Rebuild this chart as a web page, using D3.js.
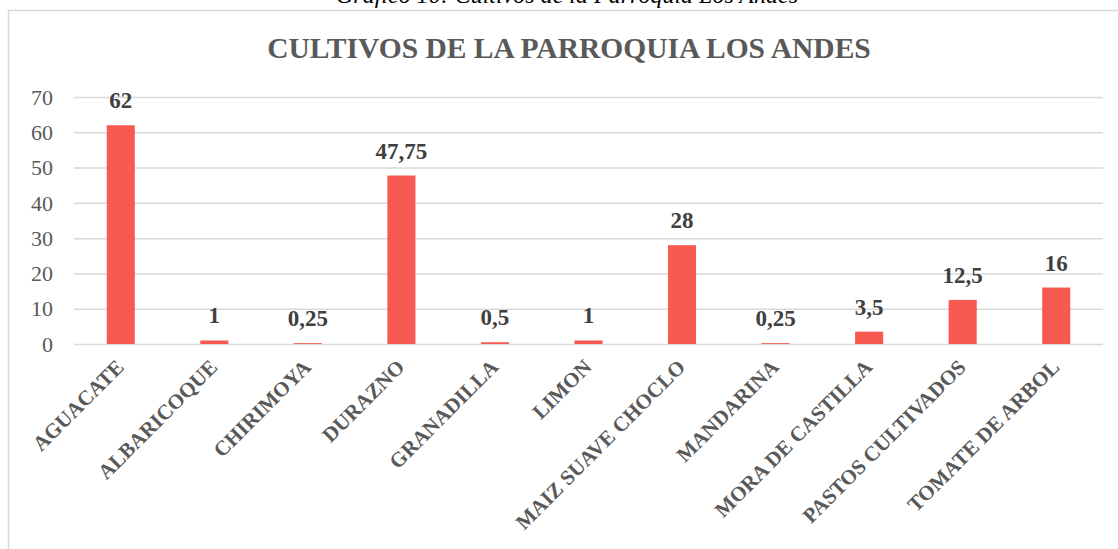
<!DOCTYPE html>
<html lang="es">
<head>
<meta charset="utf-8">
<title>Cultivos de la Parroquia Los Andes</title>
<script src="https://cdn.jsdelivr.net/npm/d3@7"></script>
<style>
  body { margin: 0; background: #fff; }
  svg { display: block; }
  .grid line { stroke: #d9d9d9; stroke-width: 1.5; }
  .grid .domain { display: none; }
</style>
</head>
<body>
<script>
// data
var cultivos = ["AGUACATE", "ALBARICOQUE", "CHIRIMOYA", "DURAZNO", "GRANADILLA", "LIMON",
  "MAIZ SUAVE CHOCLO", "MANDARINA", "MORA DE CASTILLA", "PASTOS CULTIVADOS", "TOMATE DE ARBOL"];
var hectareas = [62, 1, 0.25, 47.75, 0.5, 1, 28, 0.25, 3.5, 12.5, 16];
var yTicks = [0, 10, 20, 30, 40, 50, 60, 70];

var w = 1118, h = 549;
var plotLeft = 74, plotRight = 1103, plotTop = 97, plotBottom = 344;

var svg = d3.select("body").append("svg")
  .attr("width", w)
  .attr("height", h);

// caption above the chart (cut off at the top in the original)
svg.append("text")
  .attr("x", 567)
  .attr("y", 3)
  .attr("text-anchor", "middle")
  .style("font-family", "'Liberation Serif', 'Times New Roman', serif")
  .style("font-style", "italic")
  .style("font-size", "24px")
  .style("fill", "#000")
  .text("Gráfico 10: Cultivos de la Parroquia Los Andes");

// chart frame
svg.append("rect")
  .attr("x", 8.5)
  .attr("y", 10.5)
  .attr("width", 1130)
  .attr("height", 600)
  .attr("fill", "none")
  .attr("stroke", "#d9d9d9")
  .attr("stroke-width", 1.5);

svg.append("text")
  .attr("x", 569)
  .attr("y", 58)
  .attr("text-anchor", "middle")
  .style("font-family", "'Liberation Serif', 'Times New Roman', serif")
  .style("font-weight", "bold")
  .style("font-size", "29.5px")
  .style("fill", "#595959")
  .text("CULTIVOS DE LA PARROQUIA LOS ANDES");

var x = d3.scaleBand()
  .domain(cultivos)
  .range([plotLeft, plotRight])
  .paddingInner(0.7)
  .paddingOuter(0.35);

var y = d3.scaleLinear()
  .domain([0, 70])
  .range([plotBottom, plotTop]);

// gridlines
svg.append("g")
  .attr("class", "grid")
  .attr("transform", "translate(" + plotLeft + ",0)")
  .call(d3.axisLeft(y).tickValues(yTicks).tickSize(-(plotRight - plotLeft)).tickFormat(""));

// y tick labels
svg.append("g")
  .selectAll("text")
  .data(yTicks)
  .join("text")
  .attr("x", 53)
  .attr("y", d => y(d))
  .attr("dy", "0.35em")
  .attr("text-anchor", "end")
  .style("font-family", "'Liberation Serif', 'Times New Roman', serif")
  .style("font-size", "22px")
  .style("fill", "#595959")
  .text(d => d);

// bars
svg.append("g")
  .selectAll("rect")
  .data(hectareas)
  .join("rect")
  .attr("x", (d, i) => x(cultivos[i]))
  .attr("y", d => y(d))
  .attr("width", x.bandwidth())
  .attr("height", d => plotBottom - y(d))
  .attr("fill", "#f85a52");

// value labels
svg.append("g")
  .selectAll("text")
  .data(hectareas)
  .join("text")
  .attr("x", (d, i) => x(cultivos[i]) + x.bandwidth() / 2)
  .attr("y", d => y(d) - 17)
  .attr("text-anchor", "middle")
  .style("font-family", "'Liberation Serif', 'Times New Roman', serif")
  .style("font-weight", "bold")
  .style("font-size", "23px")
  .style("fill", "#404040")
  .text(d => String(d).replace(".", ","));

// x category labels, rotated
svg.append("g")
  .selectAll("text")
  .data(cultivos)
  .join("text")
  .attr("transform", d => "translate(" + (x(d) + x.bandwidth() / 2 - 6) + "," + 358 + ") rotate(-45)")
  .attr("dy", "0.7em")
  .attr("text-anchor", "end")
  .style("font-family", "'Liberation Serif', 'Times New Roman', serif")
  .style("font-weight", "bold")
  .style("font-size", "21px")
  .style("fill", "#595959")
  .text(d => d);
</script>
</body>
</html>
